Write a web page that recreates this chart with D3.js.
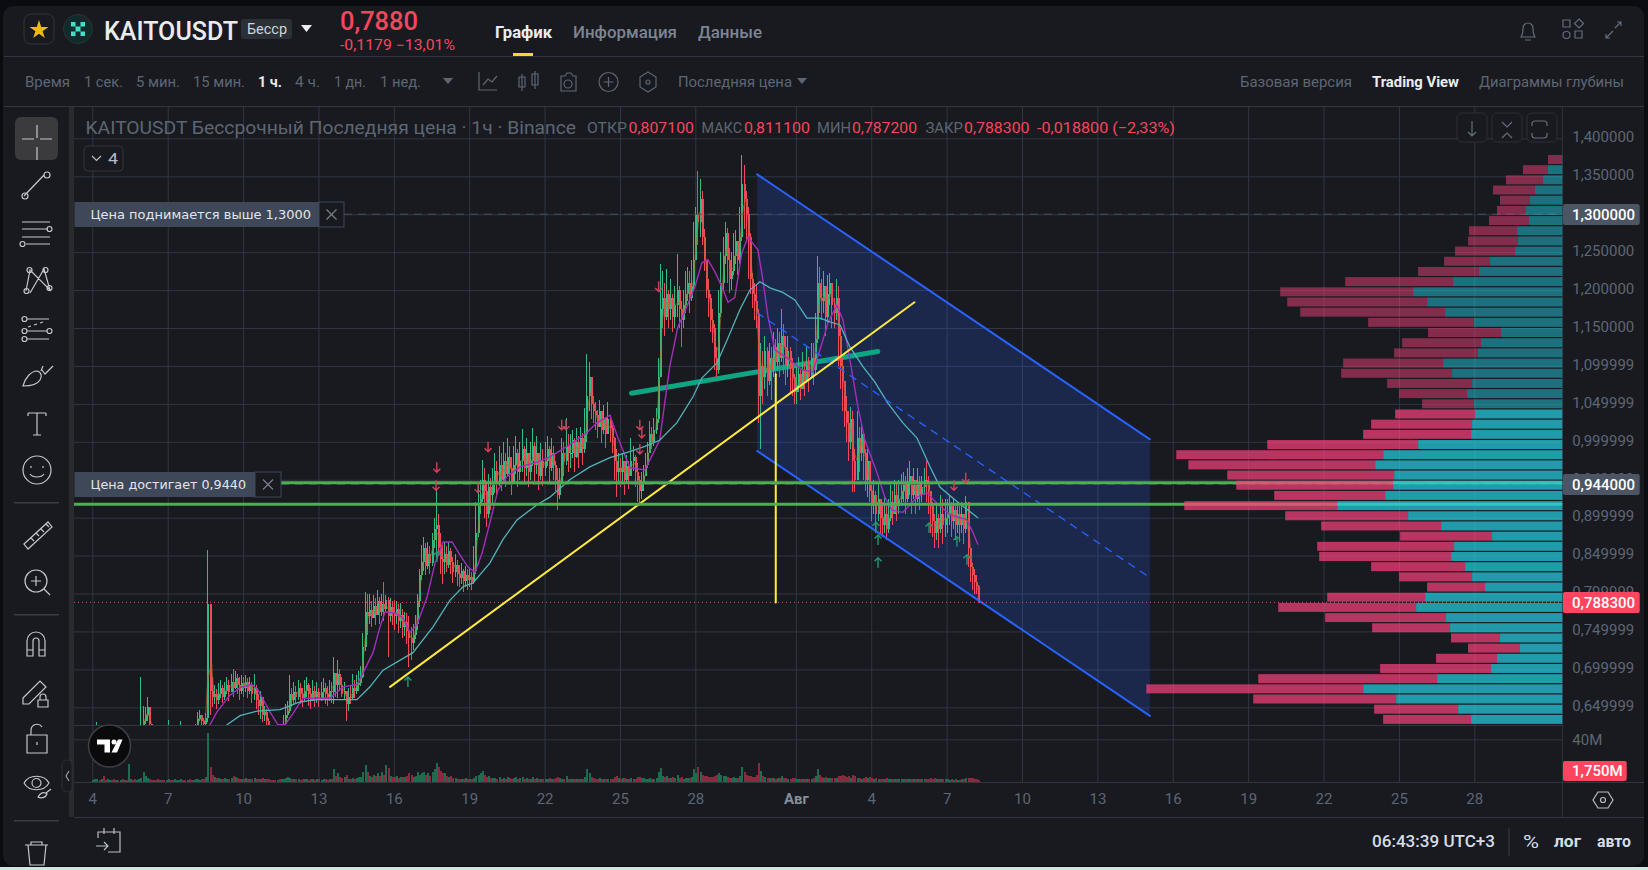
<!DOCTYPE html>
<html lang="ru">
<head>
<meta charset="UTF-8">
<title>KAITOUSDT</title>
<style>
  html, body { margin:0; padding:0; background:#0b0c0f; overflow:hidden; }
  svg { display:block; font-family:Roboto, sans-serif; }
  .grid line { stroke:#303642; stroke-width:1; }
  .grid path { display:none; }
  .grid text { fill:#5e6673; font-size:15px; font-family:Roboto, sans-serif; }
</style>
</head>
<body>
<script src="https://d3js.org/d3.v7.min.js"></script>
<script>
// two hour candles in thousandths, one row per day, Jul 4 .. Aug 8 (day 32 = Aug 1)
var firstDay = 4;
var closes = [
590,596,600,594,598,592,588,594,598,590,586,592,
588,594,590,596,592,598,604,600,596,602,606,625,
632,640,650,628,616,606,602,598,604,600,596,600,
612,606,600,604,608,610,618,612,606,610,606,604,
610,622,635,640,632,628,636,786,672,664,668,660,
668,676,664,672,680,670,684,676,688,680,672,682,
676,684,672,680,668,676,660,652,664,640,644,632,
625,616,610,606,612,608,615,628,640,645,668,660,
670,664,676,668,662,672,680,668,660,672,664,670,
662,670,676,668,664,672,670,695,680,694,680,668,
672,655,664,662,676,672,680,682,690,730,775,770,
778,768,784,772,790,776,786,780,792,770,782,774,
770,780,764,772,756,762,750,742,735,745,760,790,
825,842,860,836,852,840,870,885,890,860,845,842,
852,838,856,842,828,838,826,820,830,816,824,818,
822,815,830,880,915,925,950,935,905,940,930,945,
962,945,970,950,975,958,980,965,945,970,985,960,
975,990,965,985,960,975,995,970,985,955,975,965,
975,990,965,985,970,950,930,945,985,975,995,985,
985,1002,980,1000,985,1005,990,1010,1060,1085,1050,1040,
1035,1020,1040,1015,1032,1010,1030,1018,1005,975,960,965,
960,975,950,968,955,975,980,960,950,935,945,955,
970,985,1010,1000,1015,1030,1085,1175,1190,1165,1195,1175,
1190,1165,1180,1200,1175,1160,1180,1195,1210,1190,1205,1240,
1300,1290,1320,1270,1240,1200,1190,1160,1150,1110,1095,1170,
1210,1245,1275,1240,1215,1225,1245,1265,1240,1270,1340,1320,
1300,1270,1215,1195,1185,1170,1060,1100,1085,1120,1080,1110,
1095,1125,1105,1130,1110,1140,1125,1100,1120,1100,1085,1065,
1075,1090,1070,1095,1080,1100,1085,1110,1095,1135,1210,1190,
1185,1205,1165,1195,1210,1180,1170,1190,1140,1100,1080,1040,
1025,1000,1030,975,950,1005,985,1010,985,950,975,935,
915,930,905,925,900,890,905,885,900,920,905,930,
915,925,935,945,925,945,955,930,950,925,945,930,
940,950,945,935,915,895,880,900,885,905,890,900,
905,915,895,910,890,905,890,905,885,920,860,835,
825,815,810,788
];
var highs = [
598,604,630,600,604,600,594,600,604,598,592,598,
594,600,598,602,600,604,610,608,604,608,612,690,
652,650,664,640,626,618,610,606,610,608,604,606,
633,618,610,612,616,620,632,620,614,618,612,610,
618,628,644,646,640,636,642,858,786,690,680,674,
682,686,680,684,690,686,694,700,698,694,690,692,
690,692,688,690,684,694,680,668,672,662,652,648,
636,624,618,612,618,616,628,640,654,658,693,676,
684,678,686,682,676,686,690,682,676,686,678,684,
676,684,688,682,678,686,684,716,692,712,700,690,
684,672,676,678,694,686,692,698,705,748,802,800,
800,790,798,794,804,796,800,815,798,796,794,790,
792,790,786,788,780,776,774,770,756,760,772,800,
832,864,874,866,868,862,880,900,937,905,880,866,
868,862,868,860,848,852,844,838,840,832,836,832,
834,828,862,920,945,950,976,965,945,958,952,965,
985,975,995,985,1000,985,1005,995,980,995,1008,990,
1000,1017,995,1005,985,1000,1018,1000,1008,985,998,990,
1000,1008,995,1005,995,975,965,965,1005,1000,1031,1010,
1010,1015,1005,1018,1008,1020,1012,1045,1116,1105,1075,1060,
1052,1042,1055,1036,1048,1030,1052,1035,1022,1006,990,985,
978,985,972,982,975,1005,995,982,972,955,960,970,
985,1000,1028,1020,1032,1045,1110,1234,1225,1210,1228,1200,
1215,1195,1205,1248,1205,1185,1200,1225,1230,1225,1240,1290,
1310,1357,1346,1330,1280,1240,1215,1195,1175,1155,1125,1200,
1250,1270,1290,1282,1255,1250,1275,1279,1265,1310,1378,1365,
1330,1310,1275,1222,1210,1208,1175,1130,1120,1140,1125,1130,
1125,1145,1135,1150,1145,1175,1155,1140,1140,1125,1110,1090,
1100,1112,1095,1118,1105,1125,1112,1130,1130,1170,1245,1230,
1215,1225,1200,1220,1222,1205,1190,1215,1205,1150,1110,1075,
1060,1040,1046,1040,990,1040,1020,1025,1010,990,990,965,
945,950,935,945,925,920,930,915,925,945,935,950,
945,950,958,960,955,965,975,955,965,950,965,955,
955,965,975,955,935,920,905,920,905,930,925,925,
925,930,920,925,915,920,915,920,905,928,900,860,
840,832,825,811
];
var lows = [
584,590,592,588,592,586,582,588,590,584,580,584,
582,588,584,590,586,592,598,594,590,596,600,604,
612,628,632,620,610,602,596,592,596,594,590,592,
604,600,594,598,602,604,610,604,600,604,600,598,
604,610,620,632,626,622,624,630,640,650,655,648,
654,662,656,660,668,658,670,664,674,668,660,668,
664,670,662,668,656,660,648,640,634,630,632,622,
618,608,602,600,604,602,606,612,628,636,642,650,
654,656,660,654,650,658,664,652,648,658,650,656,
650,658,662,654,652,658,656,654,664,662,672,664,
660,632,645,654,660,662,668,672,678,688,724,745,
760,756,768,758,772,760,770,764,776,716,762,758,
752,760,748,754,742,744,734,703,712,725,740,752,
782,818,830,824,832,826,836,860,846,850,826,812,
826,828,834,826,814,822,810,808,812,802,808,804,
808,805,812,826,875,905,920,900,888,900,910,918,
932,930,942,935,948,940,955,945,930,945,958,940,
950,960,945,955,940,950,968,948,958,936,950,942,
955,968,945,962,950,935,910,925,945,955,970,960,
965,978,960,978,965,985,970,985,1000,1040,1030,1025,
1015,1005,1022,998,1010,992,1012,1000,985,950,927,945,
940,948,930,945,938,955,962,940,920,915,925,935,
955,965,985,990,995,1010,1025,1085,1150,1140,1160,1150,
1160,1145,1150,1165,1150,1125,1150,1170,1185,1170,1185,1200,
1240,1260,1270,1260,1225,1190,1165,1145,1130,1095,1085,1090,
1165,1200,1235,1210,1196,1200,1220,1235,1220,1235,1265,1280,
1265,1215,1195,1177,1160,1150,1025,990,1050,1070,1060,1075,
1055,1085,1080,1095,1085,1105,1090,1075,1085,1065,1060,1050,
1050,1065,1055,1075,1060,1078,1065,1085,1075,1090,1130,1170,
1160,1170,1140,1155,1180,1150,1150,1160,1100,1070,1040,1020,
1000,975,990,934,934,960,960,975,950,935,927,920,
895,905,880,895,880,875,880,870,880,895,890,905,
895,905,915,920,905,920,930,905,925,905,920,910,
920,930,920,905,880,875,860,870,860,880,865,875,
880,890,875,885,870,880,868,880,865,880,835,815,
805,800,800,787
];
var volumes = [
2,3,3,2,3,6,2,3,2,2,3,2,
2,2,3,2,2,17,3,2,3,2,3,4,
9,6,4,3,2,2,2,3,2,2,2,2,
3,2,2,3,2,2,3,2,2,2,3,2,
2,3,3,2,3,3,5,46,14,7,5,4,
4,3,3,4,3,3,4,6,5,4,3,3,
3,4,3,3,3,4,3,3,3,4,3,3,
3,2,2,2,2,3,3,3,4,5,4,3,
3,3,3,2,3,3,3,2,3,3,2,3,
3,2,3,3,2,3,3,12,6,8,5,4,
5,7,3,3,4,3,4,5,5,9,16,9,
6,5,7,6,8,6,9,7,16,13,6,5,
5,6,4,5,5,5,6,8,7,5,6,9,
7,8,9,7,8,6,9,12,18,14,10,8,
8,6,5,6,4,4,3,3,3,3,4,3,
3,3,4,6,7,8,10,7,5,6,4,4,
4,3,5,3,4,3,5,4,3,4,5,3,
4,5,3,4,3,3,5,3,4,3,3,3,
3,3,4,3,3,4,5,4,3,3,6,3,
3,3,3,3,3,3,3,5,12,8,5,4,
3,3,4,3,3,3,3,3,3,5,6,4,
3,4,4,3,3,4,3,3,5,5,4,4,
3,3,4,3,3,4,9,13,6,5,6,4,
4,5,4,7,4,5,3,4,4,4,5,12,
8,14,9,7,6,6,5,5,5,6,7,8,
7,6,6,5,4,4,5,4,4,6,14,9,
7,6,6,5,5,7,18,10,6,5,4,4,
4,4,3,4,4,6,4,4,3,3,4,4,
3,3,3,3,3,3,3,3,4,6,12,7,
5,4,5,4,4,4,4,4,6,6,7,6,
5,6,4,7,6,4,4,3,4,5,4,5,
4,3,4,3,3,3,3,4,3,3,3,3,
3,3,3,3,3,3,3,3,3,3,3,3,
3,3,3,3,4,3,4,3,3,3,3,3,
3,2,3,2,3,2,2,3,3,4,4,4,
4,3,3,2
];

// slow averages
var purpleDays = [8.68,8.96,9.48,9.88,10.35,10.59,11.07,11.39,11.67,11.99,12.38,13.46,13.98,14.53,14.77,15.17,15.45,15.65,16.05,16.36,16.64,16.92,17.32,17.64,17.96,18.32,18.63,18.95,19.23,19.51,19.82,20.14,20.5,21.02,21.7,22.21,23,23.68,24.08,24.6,24.91,25.39,25.99,26.58,26.98,27.3,27.66,27.98,28.26,28.5,28.78,29.06,29.3,29.57,29.85,30.09,30.49,30.69,30.89,31.17,31.68,32.24,32.68,33.04,33.28,33.63,33.87,34.15,34.47,34.75,35.23,35.54,35.82,36.26,36.82,37.21,37.61,38.13,38.8,39.04,39.24];
var purplePrices = [627,644,666,676,680,673,644,627,627,642,662,662,677,680,695,722,756,776,774,768,749,759,795,840,868,868,851,835,828,853,893,936,954,967,973,980,996,1012,1025,1035,1006,966,963,1002,1099,1151,1178,1204,1236,1240,1224,1204,1184,1190,1249,1270,1253,1213,1165,1121,1110,1095,1092,1130,1157,1180,1161,1108,1046,1002,959,927,910,907,927,933,919,904,897,881,865];
var tealDays = [9.36,9.88,10.55,11.47,12.26,12.94,14.53,15.05,15.57,16.76,17.56,18.23,18.75,19.15,19.82,20.34,20.9,21.7,22.21,23,23.8,24.6,25.39,25.99,26.58,27.26,27.9,28.26,28.86,29.26,29.77,30.17,30.57,30.97,31.48,31.96,32.44,32.96,33.36,33.76,34.15,34.67,35.14,35.66,36.26,36.82,37.34,37.74,38.42,39.24];
var tealPrices = [627,639,645,647,657,660,660,677,699,722,756,791,809,814,840,871,897,917,927,950,967,979,987,994,1002,1025,1059,1084,1104,1134,1174,1200,1211,1203,1197,1187,1163,1163,1158,1154,1125,1099,1079,1051,1025,1005,967,940,921,900];

// volume profile rows, top to bottom
var profileTopPrice = 1.3781;
var profileStep = 0.01342;
var profileBright = 25; // rows from here on are the value area
var profileBuy = [2,43,58,82,97,109,100,136,133,142,217,250,328,448,406,352,265,184,244,253,358,331,271,286,265,262,271,274,433,538,562,505,508,532,676,463,364,211,325,334,292,271,232,412,439,349,337,187,127,196,214,376,598,499,313,274];
var profileSell = [41,75,111,126,90,87,120,144,150,180,138,183,324,399,420,435,318,219,237,252,300,333,255,204,156,240,303,324,453,621,561,501,471,333,459,369,360,276,411,396,282,219,174,294,414,363,234,147,156,183,333,537,651,429,252,264];

var priceTicks = [1.4,1.35,1.3,1.25,1.2,1.15,1.1,1.05,1,0.95,0.9,0.85,0.8,0.75,0.7,0.65];
var priceTickLabels = ["1,400000","1,350000","1,300000","1,250000","1,200000","1,150000","1,099999","1,049999","0,999999","0,949999","0,899999","0,849999","0,799999","0,749999","0,699999","0,649999"];
var dayTicks = [4,7,10,13,16,19,22,25,28,32,35,38,41,44,47,50,53,56,59];
var dayTickLabels = ["4","7","10","13","16","19","22","25","28","Авг","4","7","10","13","16","19","22","25","28"];

// drawings on the chart
var channelDays = [30.46,46.09];
var channelUpper = [1.3526,1.0033];
var channelMid = [1.170,0.821];
var channelLower = [0.9879,0.6386];
var yellowDays = [15.85,36.72];
var yellowPrices = [0.677,1.184];
var yellowVertDay = 31.2;
var yellowVertPrices = [1.089,0.788];
var thickDays = [25.46,35.26];
var thickPrices = [1.064,1.119];
var alertLinePrices = [0.9461,0.9176];
var lastPrice = 0.7883;

var downDays = [17.71,17.68,19.75,19.35,26.54,25.79,25.87,25.79,22.68,22.85,38.29,38.76];
var downPrices = [0.960,0.936,0.987,0.933,1.198,1.016,1.005,0.984,1.016,1.016,0.936,0.946];
var upDays = [16.56,17.72,35.19,35.27,35.27,37.3,38.41,38.81];
var upPrices = [0.690,0.855,0.894,0.877,0.847,0.893,0.875,0.851];

var W = 1648, H = 870;
var plotL = 74, plotR = 1562.3, plotT = 107, priceB = 725, timeY = 782, footY = 817;
var GREEN = '#2ebd85', RED = '#f6465d', MUTED = '#5e6673';

var svg = d3.select('body').append('svg').attr('width', W).attr('height', H);

var x = d3.scaleLinear().domain([4,59]).range([92.3,1474.3]);
var y = d3.scaleLinear().domain([0.65,1.35]).range([707.3,176.3]);
var yVol = d3.scaleLinear().domain([0,40]).range([timeY,739.3]);
var xProfile = d3.scaleLinear().domain([0,1250]).range([plotR,1146]);

// shell
svg.append('rect').attr('width', W).attr('height', H).attr('fill', '#0b0c0f');
svg.append('rect').attr('y', 867).attr('width', W).attr('height', 3).attr('fill', '#cfe6e2');
svg.append('rect').attr('x', 3).attr('y', 6).attr('width', 1641).attr('height', 860).attr('rx', 10).attr('fill', '#181a20');
svg.append('rect').attr('x', 69).attr('y', 107).attr('width', 5).attr('height', 710).attr('fill', '#2a2b2e');

var defs = svg.append('defs');
defs.append('clipPath').attr('id', 'price-clip').append('rect')
  .attr('x', plotL).attr('y', plotT).attr('width', plotR - plotL).attr('height', priceB - plotT);
defs.append('clipPath').attr('id', 'vol-clip').append('rect')
  .attr('x', plotL).attr('y', priceB).attr('width', plotR - plotL).attr('height', timeY - priceB);

function hline(py, x1, x2) {
  svg.append('line').attr('x1', x1).attr('x2', x2).attr('y1', py).attr('y2', py).attr('stroke', '#303642');
}
hline(56.5, 4, 1644);
hline(106.5, 4, 1644);
hline(footY + 0.5, plotL, 1644);

// axes and grid
var xAxis = d3.axisBottom(x).tickValues(dayTicks)
  .tickFormat(function(d, i) { return dayTickLabels[i]; })
  .tickSizeInner(-(timeY - plotT)).tickSizeOuter(0).tickPadding(11);
var gx = svg.append('g').attr('class', 'grid').attr('transform', 'translate(0,' + timeY + ')').call(xAxis);
gx.selectAll('.tick').filter(function(d) { return d === 32; }).select('text')
  .attr('font-weight', 700).style('fill', '#848e9c');

var yAxis = d3.axisRight(y).tickValues(priceTicks)
  .tickFormat(function(d, i) { return priceTickLabels[i]; })
  .tickSizeInner(-(plotR - plotL)).tickSizeOuter(0).tickPadding(10);
var gy = svg.append('g').attr('class', 'grid').attr('transform', 'translate(' + plotR + ',0)').call(yAxis);
gy.selectAll('text').attr('dy', '0.22em');

var volAxis = d3.axisRight(yVol).tickValues([40]).tickFormat(function() { return '40M'; })
  .tickSizeInner(-(plotR - plotL)).tickSizeOuter(0).tickPadding(10);
svg.append('g').attr('class', 'grid').attr('transform', 'translate(' + plotR + ',0)').call(volAxis);

hline(priceB + 0.5, plotL, plotR);
hline(timeY + 0.5, plotL, 1644);
svg.append('line').attr('x1', plotR).attr('x2', plotR).attr('y1', plotT).attr('y2', footY).attr('stroke', '#303642');

// channel fill goes under the candles
var pricePane = svg.append('g').attr('clip-path', 'url(#price-clip)');
var pts = channelDays.map(function(d, i) { return [x(d), y(channelUpper[i])]; })
  .concat(channelDays.map(function(d, i) { return [x(d), y(channelLower[i])]; }).reverse());
pricePane.append('path').attr('d', 'M' + pts.join('L') + 'Z').attr('fill', '#2962ff').attr('fill-opacity', 0.2);

var line2 = d3.line().x(function(d) { return x(d[0]); }).y(function(d) { return y(d[1]); });
function drawLine(days, prices, color, width, dash) {
  return pricePane.append('path').datum(days.map(function(d, i) { return [d, prices[i]]; }))
    .attr('d', line2).attr('fill', 'none').attr('stroke', color).attr('stroke-width', width)
    .attr('stroke-dasharray', dash || null).attr('stroke-linecap', 'round');
}
drawLine(thickDays, thickPrices, '#0ea583', 5);

// candles
var bars = closes.map(function(c, i) {
  var open = i ? closes[i - 1] : c;
  return { day: firstDay + i / 12, open: open / 1000, close: c / 1000, high: highs[i] / 1000, low: lows[i] / 1000, vol: volumes[i] };
});
function barColor(d) { return d.close >= d.open ? GREEN : RED; }
function barX(d) { return Math.round(x(d.day)); }

pricePane.append('g').attr('shape-rendering', 'crispEdges').selectAll('line').data(bars).enter().append('line')
  .attr('x1', function(d) { return barX(d) + 0.5; }).attr('x2', function(d) { return barX(d) + 0.5; })
  .attr('y1', function(d) { return y(d.high); }).attr('y2', function(d) { return y(d.low); })
  .attr('stroke', barColor).attr('stroke-width', 1);
pricePane.append('g').attr('shape-rendering', 'crispEdges').selectAll('rect').data(bars).enter().append('rect')
  .attr('x', barX).attr('width', 2)
  .attr('y', function(d) { return y(Math.max(d.open, d.close)); })
  .attr('height', function(d) { return Math.max(1, Math.abs(y(d.open) - y(d.close))); })
  .attr('fill', barColor);

var fastMa = bars.map(function(d, i) {
  return [d.day, d3.mean(closes.slice(Math.max(0, i - 2), i + 1)) / 1000];
});
pricePane.append('path').datum(fastMa).attr('d', line2).attr('fill', 'none')
  .attr('stroke', '#a8701f').attr('stroke-width', 1.1).attr('stroke-opacity', 0.6);
drawLine(purpleDays, purplePrices.map(function(p) { return p / 1000; }), '#a32fb8', 1.4);
drawLine(tealDays, tealPrices.map(function(p) { return p / 1000; }), '#52b3b8', 1.3);

// drawings
drawLine(channelDays, channelUpper, '#2962ff', 2);
drawLine(channelDays, channelLower, '#2962ff', 2);
drawLine(channelDays, channelMid, '#2962ff', 1.3, '7 7');
drawLine(yellowDays, yellowPrices, '#ffeb3b', 2);
drawLine([yellowVertDay, yellowVertDay], yellowVertPrices, '#ffeb3b', 2);

// levels
svg.append('line').attr('x1', 344).attr('x2', plotR).attr('y1', y(1.3)).attr('y2', y(1.3))
  .attr('stroke', '#4a505c').attr('stroke-dasharray', '8 6');
svg.append('line').attr('x1', 281).attr('x2', plotR).attr('y1', y(0.944)).attr('y2', y(0.944))
  .attr('stroke', '#4a505c').attr('stroke-dasharray', '8 6');
svg.append('line').attr('x1', plotL).attr('x2', plotR).attr('y1', y(lastPrice)).attr('y2', y(lastPrice))
  .attr('stroke', RED).attr('stroke-dasharray', '1 3');
svg.append('line').attr('x1', 281).attr('x2', plotR).attr('y1', y(alertLinePrices[0])).attr('y2', y(alertLinePrices[0]))
  .attr('stroke', '#4caf50').attr('stroke-width', 3);
svg.append('line').attr('x1', plotL).attr('x2', plotR).attr('y1', y(alertLinePrices[1])).attr('y2', y(alertLinePrices[1]))
  .attr('stroke', '#4caf50').attr('stroke-width', 3);

// trade arrows
function arrow(g, px, py, dir, color) {
  g.append('path')
    .attr('d', 'M' + px + ',' + py + 'v' + (-dir * 10) + 'M' + (px - 3.5) + ',' + (py - dir * 3.5) + 'L' + px + ',' + py + 'L' + (px + 3.5) + ',' + (py - dir * 3.5))
    .attr('fill', 'none').attr('stroke', color).attr('stroke-width', 1.4);
}
var arrows = svg.append('g');
downDays.forEach(function(d, i) { arrow(arrows, x(d), y(downPrices[i]), 1, '#d2405a'); });
upDays.forEach(function(d, i) { arrow(arrows, x(d), y(upPrices[i]), -1, '#1f9a70'); });

// volume pane
var volPane = svg.append('g').attr('clip-path', 'url(#vol-clip)').attr('shape-rendering', 'crispEdges');
volPane.selectAll('rect').data(bars).enter().append('rect')
  .attr('x', barX).attr('width', 2)
  .attr('y', function(d) { return yVol(d.vol); })
  .attr('height', function(d) { return timeY - yVol(d.vol); })
  .attr('fill', function(d) { return d.close >= d.open ? '#1e6b50' : '#8a2a3f'; });

// volume profile
var rows = profileBuy.map(function(b, i) { return { i: i, buy: b, sell: profileSell[i], top: profileTopPrice - i * profileStep }; });
var profile = svg.append('g');
function rowY(d) { return y(d.top); }
function rowH(d) { return y(d.top - profileStep) - y(d.top) - 1.2; }
function rowOpacity(d) { return d.i >= profileBright ? 0.7 : 0.47; }
profile.selectAll('rect.buy').data(rows).enter().append('rect').attr('class', 'buy')
  .attr('x', function(d) { return xProfile(d.buy); })
  .attr('width', function(d) { return plotR - xProfile(d.buy); })
  .attr('y', rowY).attr('height', rowH).attr('fill', '#25d2e6').attr('fill-opacity', rowOpacity);
profile.selectAll('rect.sell').data(rows).enter().append('rect').attr('class', 'sell')
  .attr('x', function(d) { return xProfile(d.buy + d.sell); })
  .attr('width', function(d) { return xProfile(d.buy) - xProfile(d.buy + d.sell); })
  .attr('y', rowY).attr('height', rowH).attr('fill', '#fd427e').attr('fill-opacity', rowOpacity);

// text helper, fitted to the width it has in the screenshot
function txt(str, x0, x1, base, size, color, weight, family) {
  return svg.append('text').attr('x', x0).attr('y', base).text(str)
    .attr('font-size', size).attr('fill', color).attr('font-weight', weight || 400)
    .attr('font-family', family || 'Roboto, sans-serif')
    .attr('textLength', x1 - x0).attr('lengthAdjust', 'spacingAndGlyphs');
}

// alert tags
function alertTag(label, x0, x1, x2, top, textEnd) {
  svg.append('rect').attr('x', x0).attr('y', top).attr('width', x1 - x0).attr('height', 25).attr('fill', '#3e4859');
  svg.append('rect').attr('x', x1).attr('y', top).attr('width', x2 - x1).attr('height', 25).attr('fill', '#181a20').attr('stroke', '#3e4859');
  txt(label, x0 + 16, textEnd, top + 17, 13, '#e3e6ea', 400, '"DejaVu Sans", sans-serif');
  var cx = (x1 + x2) / 2, cy = top + 12.5;
  svg.append('path').attr('d', 'M' + (cx - 5) + ',' + (cy - 5) + 'l10,10M' + (cx + 5) + ',' + (cy - 5) + 'l-10,10')
    .attr('stroke', '#7a808a').attr('stroke-width', 1.2);
}
alertTag('Цена поднимается выше 1,3000', 74.5, 319, 344, 202, 311);
alertTag('Цена достигает 0,9440', 74.5, 255, 281, 472, 246);

// price badges
function badge(x1, top, h, fill, label, size) {
  svg.append('rect').attr('x', plotR + 0.7).attr('y', top).attr('width', x1 - plotR).attr('height', h).attr('rx', 2).attr('fill', fill);
  svg.append('text').attr('x', 1572).attr('y', top + h / 2 + 5.2).text(label)
    .attr('fill', '#fff').attr('font-size', size).attr('font-weight', 500);
}
badge(1639, 204, 21, '#4b5563', '1,300000', 15);
badge(1639, 474, 21, '#4b5563', '0,944000', 15);
badge(1639, 592, 21, '#ff4560', '0,788300', 15);
badge(1626, 761, 20, '#ff4560', '1,750M', 15);

// top bar
svg.append('rect').attr('x', 24).attr('y', 14).attr('width', 30).attr('height', 30).attr('rx', 7).attr('fill', 'none').attr('stroke', '#30343c');
svg.append('path').attr('d', d3.symbol(d3.symbolStar, 110)()).attr('transform', 'translate(39,30)').attr('fill', '#f0b90b');
svg.append('circle').attr('cx', 78).attr('cy', 29).attr('r', 14.5).attr('fill', '#0f2b2a').attr('stroke', '#2d3238');
svg.append('path').attr('d', 'M71,22h4.5v4.5h-4.5zM80.5,22h4.5v4.5h-4.5zM75.5,26.5h5v5h-5zM71,31.5h4.5v4.5h-4.5zM80.5,31.5h4.5v4.5h-4.5z').attr('fill', '#3ee0c8');
txt('KAITOUSDT', 104, 238, 40, 25, '#eaecef', 500);
svg.append('rect').attr('x', 241).attr('y', 19).attr('width', 51).attr('height', 20).attr('rx', 3).attr('fill', '#2b2f36');
txt('Бесср', 247, 287, 34, 15, '#d0d4da');
svg.append('path').attr('d', 'M301,25h11l-5.500,7z').attr('fill', '#eaecef');
txt('0,7880', 340, 418, 30, 25, RED, 500);
txt('-0,1179 −13,01%', 340, 455, 50, 14, RED);
txt('График', 495, 552, 38, 16, '#eaecef', 700);
txt('Информация', 573, 677, 38, 16, '#7d8593', 500);
txt('Данные', 698, 762, 38, 16, '#7d8593', 500);
svg.append('rect').attr('x', 513).attr('y', 53).attr('width', 20).attr('height', 3).attr('fill', '#fcd535');

// second row
var rowTexts = [
  ['Время', 25, 70], ['1 сек.', 84, 123], ['5 мин.', 136, 180], ['15 мин.', 193, 245],
  ['4 ч.', 295, 320], ['1 дн.', 334, 366], ['1 нед.', 380, 421], ['Последняя цена', 678, 792],
  ['Базовая версия', 1240, 1352], ['Диаграммы глубины', 1479, 1624]
];
rowTexts.forEach(function(t) { txt(t[0], t[1], t[2], 87, 14.5, MUTED); });
txt('1 ч.', 258, 282, 87, 14.5, '#eaecef', 700);
txt('Trading View', 1372, 1459, 87, 14.5, '#eaecef', 700);
svg.append('path').attr('d', 'M443,78h10l-5,6zM797,78h10l-5,6z').attr('fill', MUTED);

// chart legend
txt('KAITOUSDT Бессрочный Последняя цена · 1ч · Binance', 85.5, 576, 134, 18, MUTED);
txt('ОТКР', 587, 627, 133, 14.5, MUTED);
txt('0,807100', 628.5, 694, 133, 14.5, RED);
txt('МАКС', 701.5, 742, 133, 14.5, MUTED);
txt('0,811100', 744, 810, 133, 14.5, RED);
txt('МИН', 817, 851, 133, 14.5, MUTED);
txt('0,787200', 852, 917, 133, 14.5, RED);
txt('ЗАКР', 925.5, 963, 133, 14.5, MUTED);
txt('0,788300', 964, 1029.5, 133, 14.5, RED);
txt('-0,018800 (−2,33%)', 1037, 1175, 133, 14.5, RED);

svg.append('rect').attr('x', 84).attr('y', 146).attr('width', 39).attr('height', 25).attr('rx', 4).attr('fill', '#181a20').attr('stroke', '#30343c');
svg.append('path').attr('d', 'M92,156l4.500,4.500l4.500,-4.500').attr('fill', 'none').attr('stroke', '#b7bdc6').attr('stroke-width', 1.2);
txt('4', 108, 118, 164, 15, '#b7bdc6');

// chart corner buttons
[1457, 1492, 1527].forEach(function(bx) {
  svg.append('rect').attr('x', bx).attr('y', 113).attr('width', 30).attr('height', 29).attr('rx', 5).attr('fill', '#181a20').attr('stroke', '#2a2e36');
});
var iconStroke = '#656d7a', toolStroke = '#c4c7cc';
function icon(d, color, width) {
  return svg.append('path').attr('d', d).attr('fill', 'none').attr('stroke', color || iconStroke).attr('stroke-width', width || 1.2);
}
icon('M1472,121v15M1468,132l4,4l4,-4');
icon('M1502,122l5,5l5,-5M1502,138l5,-5l5,5');
icon('M1535,121h9a3,3 0 0 1 3,3v2M1547,133v2a3,3 0 0 1 -3,3h-9M1535,138a3,3 0 0 1 -3,-3v-2M1532,126v-2a3,3 0 0 1 3,-3');

// top right and row icons
icon('M1521,37h14c-2,-3 -2,-5 -2,-9a5,5 0 0 0 -10,0c0,4 0,6 -2,9zM1525,40h6');
icon('M1563,20h7v7h-7zM1579,19l4.500,4.500l-4.500,4.500l-4.500,-4.500zM1563,35a3.500,3.500 0 1 0 7,0a3.500,3.500 0 1 0 -7,0M1575,31h7v7h-7z');
icon('M1606,38l7,-7M1606,34v4h4M1621,22l-6,6M1617,22h4v4');
icon('M479,72v18h18M483,85l5,-6l4,3l5,-6', MUTED);
icon('M522,74v17M535,71v18M519,77h6v10h-6zM532,74h6v11h-6z', MUTED);
icon('M561,76h4l2,-3h4l2,3h3v15h-15zM564,84a4,4 0 1 0 8,0a4,4 0 1 0 -8,0', MUTED);
icon('M599,82a9.500,9.500 0 1 0 19,0a9.500,9.500 0 1 0 -19,0M608.500,77v10M603.500,82h10', MUTED);
icon('M648,72l8,5v10l-8,5l-8,-5v-10zM646,82a2,2 0 1 0 4,0a2,2 0 1 0 -4,0', MUTED);

// left toolbar
svg.append('rect').attr('x', 15).attr('y', 117).attr('width', 43).attr('height', 43).attr('rx', 6).attr('fill', '#3b3b3d');
var tools = [
  'M37,125v13M37,147v13M22,139h12M40,139h12',
  'M24,196l20,-21M22,196a3,3 0 1 0 6,0a3,3 0 1 0 -6,0M44,175a3,3 0 1 0 6,0a3,3 0 1 0 -6,0',
  'M22,222h28M22,229h26M22,237h28M26,244h24M47,229a2.500,2.500 0 1 0 5,0a2.500,2.500 0 1 0 -5,0M20,244a2.500,2.500 0 1 0 5,0a2.500,2.500 0 1 0 -5,0',
  'M26,291l4,-21l20,20l-6,-21l-14,24M24,291a2.500,2.500 0 1 0 5,0a2.500,2.500 0 1 0 -5,0M47,288a2.500,2.500 0 1 0 5,0a2.500,2.500 0 1 0 -5,0M27,270a2.500,2.500 0 1 0 5,0a2.500,2.500 0 1 0 -5,0M43,270a2.500,2.500 0 1 0 5,0a2.500,2.500 0 1 0 -5,0',
  'M27,319h22M27,331h20M27,339h22M28,327l3,-1M34,325l3,-1M40,323l3,-1M22,319a2.500,2.500 0 1 0 5,0a2.500,2.500 0 1 0 -5,0M22,331a2.500,2.500 0 1 0 5,0a2.500,2.500 0 1 0 -5,0M22,339a2.500,2.500 0 1 0 5,0a2.500,2.500 0 1 0 -5,0M47,331a2.500,2.500 0 1 0 5,0a2.500,2.500 0 1 0 -5,0',
  'M23,386c2,-8 8,-15 14,-15c5,1 5,6 3,9c-3,5 -10,6 -17,6zM42,370l3,4l8,-8M41,371l2,-5',
  'M28,413h18M28,413v3M46,413v3M37,413v22M33,435h8',
  'M23,470a14,14 0 1 0 28,0a14,14 0 1 0 -28,0M31,466v2M43,466v2M30,474c3,4 11,4 14,0',
  'M24,544l24,-22l4,5l-24,22zM31,538l3,3M36,533l3,3M41,529l3,3M46,524l3,3',
  'M25,581a11,11 0 1 0 22,0a11,11 0 1 0 -22,0M36,576v10M31,581h10M44,589l6,6',
  'M27,656v-15a9,9 0 0 1 18,0v15h-6v-15a3,3 0 0 0 -6,0v15zM27,650h6M39,650h6',
  'M23,698l17,-17l6,6l-17,17h-6zM38,700h10v7h-10zM40,700v-3a3,3 0 0 1 6,0v3',
  'M27,735h20v18h-20zM31,735v-5a6,6 0 0 1 11,-3M37,742v3',
  'M24,783c5,-9 20,-9 25,0c-5,9 -20,9 -25,0M32,783a4.500,4.500 0 1 0 9,0a4.500,4.500 0 1 0 -9,0M38,797c2,-4 6,-6 9,-3c-1,3 -5,5 -9,3zM46,793l5,-4',
  'M25,845h23M31,845v-3h11v3M28,845l2,20h14l2,-20'
];
tools.forEach(function(d) { icon(d, toolStroke, 1.2); });
[502, 614, 820].forEach(function(py) {
  svg.append('rect').attr('x', 14).attr('y', py).attr('width', 45).attr('height', 1.5).attr('fill', '#3a3c42');
});
svg.append('rect').attr('x', 62).attr('y', 760).attr('width', 10).attr('height', 32).attr('rx', 5).attr('fill', '#181a20').attr('stroke', '#2a2e36');
icon('M69,771l-3,5l3,5', '#9aa0a8');

// logo
svg.append('circle').attr('cx', 109.5).attr('cy', 746).attr('r', 21).attr('fill', '#0a0a0c').attr('stroke', '#3d3f45').attr('stroke-width', 1.5);
svg.append('path').attr('d', 'M97,739.500h13v13h-5.500v-8h-7.500zM122.500,739.500h-4.500l-6.500,13h5.500z').attr('fill', '#fff');
svg.append('circle').attr('cx', 114).attr('cy', 742).attr('r', 2.5).attr('fill', '#fff');

// footer
icon('M98,838v-6h22v20h-12M96,846h12M104,842l4,4l-4,4M104,828v6M114,828v6', '#b7bdc6');
txt('06:43:39 UTC+3', 1372, 1495, 847, 16, '#d5dde8', 500);
svg.append('line').attr('x1', 1509).attr('x2', 1509).attr('y1', 828).attr('y2', 856).attr('stroke', '#3a3f48');
txt('%', 1523, 1539, 848, 18, '#d5dde8');
txt('лог', 1554, 1581, 847, 16, '#d5dde8', 700);
txt('авто', 1597, 1631, 847, 16, '#d5dde8', 700);
icon('M1593,800l5,-8h10l5,8l-5,8h-10zM1600.500,800a2.500,2.500 0 1 0 5,0a2.500,2.500 0 1 0 -5,0', '#b7bdc6');
</script>
</body>
</html>
